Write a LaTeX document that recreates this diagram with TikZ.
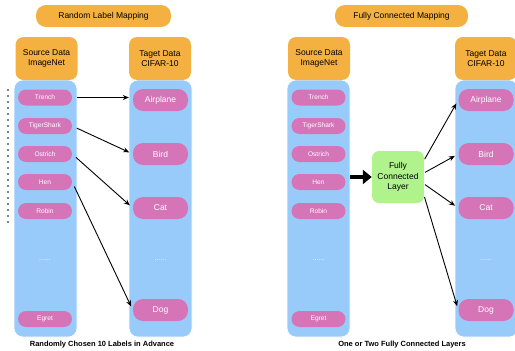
\documentclass[tikz,border=0pt]{standalone}
\usepackage{fontspec}
\setmainfont{Liberation Sans}
\usetikzlibrary{arrows.meta}
\definecolor{hdrorange}{HTML}{F4B142}
\definecolor{colblue}{HTML}{99CBFA}
\definecolor{labpink}{HTML}{D575B8}
\definecolor{fcgreen}{HTML}{B0F28C}
\tikzset{
  title/.style={fill=hdrorange, rounded corners=10pt, minimum height=22pt, inner sep=0pt, font=\fontsize{8.5}{10}\selectfont},
  header/.style={fill=hdrorange, rounded corners=8pt, minimum width=62pt, minimum height=43pt, inner sep=0pt, align=center, font=\fontsize{8.5}{10.5}\selectfont},
  column/.style={fill=colblue, draw=white, line width=0.6pt, rounded corners=9pt, minimum width=63pt, minimum height=257pt, inner sep=0pt},
  srclabel/.style={fill=labpink, text=white, rounded corners=8pt, minimum width=54pt, minimum height=16pt, inner sep=0pt, font=\fontsize{6.6}{7}\selectfont},
  tgtlabel/.style={fill=labpink, text=white, rounded corners=10pt, minimum width=55pt, minimum height=22pt, inner sep=0pt, font=\fontsize{8.5}{10}\selectfont},
  more/.style={text=white, font=\fontsize{7}{8}\selectfont},
  fclayer/.style={fill=fcgreen, rounded corners=7pt, minimum width=52pt, minimum height=52pt, inner sep=0pt, align=center, font=\fontsize{8.5}{10.5}\selectfont},
  caption/.style={font=\bfseries\fontsize{7.5}{9}\selectfont},
  map/.style={-{Stealth[length=6pt,width=5pt]}, line width=0.9pt, shorten <=5pt, shorten >=4pt},
}
\begin{document}
\begin{tikzpicture}[x=1pt,y=-1pt]
  \useasboundingbox (0,0) rectangle (515,351);

  % random label mapping
  \node[title, minimum width=135pt] (titleA) at (103.5,16) {Random Label Mapping};
  \node[column] (srcA) at (45.5,208.5) {};
  \node[column] (tgtA) at (160.5,208.5) {};
  \node[header] (hdrsrcA) at (46.5,58.5) {Source Data\\ImageNet};
  \node[header] (hdrtgtA) at (160,58.5) {Taget Data\\CIFAR-10};

  \node[srclabel] (trenchA) at (45,97.5) {Trench};
  \node[srclabel] (sharkA) at (45,126) {TigerShark};
  \node[srclabel] (ostrichA) at (45,154) {Ostrich};
  \node[srclabel] (henA) at (45,182) {Hen};
  \node[srclabel] (robinA) at (45,211) {Robin};
  \node[more] (moresrcA) at (45,260) {......};
  \node[srclabel] (egretA) at (45,319) {Egret};

  \node[tgtlabel] (planeA) at (160.5,100) {Airplane};
  \node[tgtlabel] (birdA) at (160.5,154) {Bird};
  \node[tgtlabel] (catA) at (160.5,208) {Cat};
  \node[more] (moretgtA) at (160.5,260) {......};
  \node[tgtlabel] (dogA) at (160.5,310) {Dog};

  \draw[map] (trenchA.east) -- (trenchA.east -| planeA.west);
  \draw[map] (sharkA.east) -- (birdA.west);
  \draw[map] (ostrichA.east) -- (catA.west);
  \draw[map] (henA.east) -- (dogA.west);

  \draw[line width=1.6pt, line cap=round, dash pattern=on 0pt off 6pt] (8,90) -- (8,226);

  \node[caption] (capA) at (102,345) {Randomly Chosen 10 Labels in Advance};

  % fully connected mapping
  \node[title, minimum width=133pt] (titleB) at (401.5,16) {Fully Connected Mapping};
  \node[column] (srcB) at (318.5,208.5) {};
  \node[column] (tgtB) at (486.5,208.5) {};
  \node[header] (hdrsrcB) at (319,58.5) {Source Data\\ImageNet};
  \node[header] (hdrtgtB) at (486,58.5) {Taget Data\\CIFAR-10};

  \node[srclabel] (trenchB) at (318.5,97.5) {Trench};
  \node[srclabel] (sharkB) at (318.5,126) {TigerShark};
  \node[srclabel] (ostrichB) at (318.5,154) {Ostrich};
  \node[srclabel] (henB) at (318.5,182) {Hen};
  \node[srclabel] (robinB) at (318.5,211) {Robin};
  \node[more] (moresrcB) at (318.5,260) {......};
  \node[srclabel] (egretB) at (318.5,319) {Egret};

  \node[tgtlabel] (planeB) at (486,100) {Airplane};
  \node[tgtlabel] (birdB) at (486,154) {Bird};
  \node[tgtlabel] (catB) at (486,208) {Cat};
  \node[more] (moretgtB) at (486,260) {......};
  \node[tgtlabel] (dogB) at (486,310) {Dog};

  \node[fclayer] (fc) at (398,177) {Fully\\Connected\\Layer};

  \draw[line width=3.8pt, -{Triangle[length=9pt,width=14pt]}] (srcB.east |- fc.west) -- (fc.west);
  \draw[map, shorten <=1pt] (fc.33) -- (planeB.west);
  \draw[map, shorten <=1pt] (fc.9) -- (birdB.west);
  \draw[map, shorten <=1pt] (fc.-15) -- (catB.west);
  \draw[map, shorten <=1pt] (fc.-36) -- (dogB.west);

  \node[caption] (capB) at (402,345) {One or Two Fully Connected Layers};
\end{tikzpicture}
\end{document}
